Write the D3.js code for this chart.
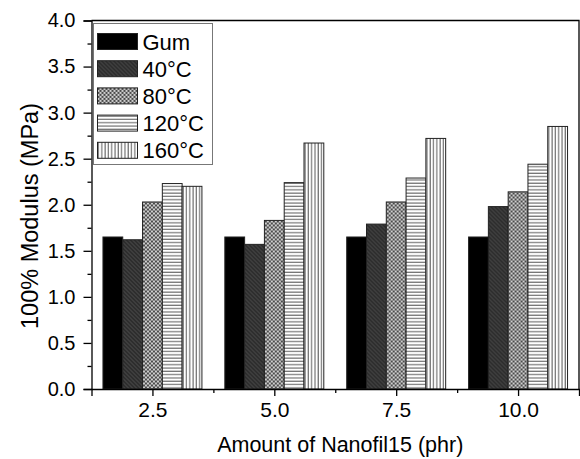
<!DOCTYPE html>
<html>
<head>
<meta charset="utf-8">
<script src="https://cdn.jsdelivr.net/npm/d3@7"></script>
<style>
  body { margin: 0; background: #fff; }
  text { font-family: "Liberation Sans", Arial, sans-serif; fill: #000; }
</style>
</head>
<body>
<div class="canvas"></div>
<script>
// amounts of filler (x categories)
const amounts = [2.5, 5.0, 7.5, 10.0];
const seriesNames = ['Gum', '40°C', '80°C', '120°C', '160°C'];

// 100% modulus values (MPa) per series
const gum = [1.65, 1.65, 1.65, 1.65];
const t40 = [1.62, 1.57, 1.79, 1.98];
const t80 = [2.03, 1.83, 2.03, 2.14];
const t120 = [2.23, 2.24, 2.29, 2.44];
const t160 = [2.20, 2.67, 2.72, 2.85];

const yTicks = [0.0, 0.5, 1.0, 1.5, 2.0, 2.5, 3.0, 3.5, 4.0];

const seriesValues = [gum, t40, t80, t120, t160];

const width = 580, height = 459;
const margin = { top: 20.5, right: 1, bottom: 70, left: 91.5 };
const w = width - margin.left - margin.right;
const h = height - margin.top - margin.bottom;

const svg = d3.select('.canvas')
    .append('svg')
    .attr('width', width)
    .attr('height', height);

// fill patterns for each series
const defs = svg.append('defs');

const p40 = defs.append('pattern')
    .attr('id', 'p40')
    .attr('patternUnits', 'userSpaceOnUse')
    .attr('width', 4).attr('height', 4);
p40.append('rect').attr('width', 4).attr('height', 4).attr('fill', '#3e3e3e');
p40.append('path')
    .attr('d', 'M0,0L4,4M-1,3L1,5M3,-1L5,1')
    .attr('stroke', '#1c1c1c').attr('stroke-width', 1);

const p80 = defs.append('pattern')
    .attr('id', 'p80')
    .attr('patternUnits', 'userSpaceOnUse')
    .attr('width', 4).attr('height', 4);
p80.append('rect').attr('width', 4).attr('height', 4).attr('fill', '#cfcfcf');
p80.append('rect').attr('width', 2).attr('height', 2).attr('fill', '#4a4a4a');
p80.append('rect').attr('x', 2).attr('y', 2).attr('width', 2).attr('height', 2).attr('fill', '#4a4a4a');

const p120 = defs.append('pattern')
    .attr('id', 'p120')
    .attr('patternUnits', 'userSpaceOnUse')
    .attr('width', 4).attr('height', 3.3);
p120.append('rect').attr('width', 4).attr('height', 3.3).attr('fill', '#fff');
p120.append('line').attr('x1', 0).attr('x2', 4).attr('y1', 1).attr('y2', 1)
    .attr('stroke', '#555').attr('stroke-width', 1);

const p160 = defs.append('pattern')
    .attr('id', 'p160')
    .attr('patternUnits', 'userSpaceOnUse')
    .attr('width', 3.3).attr('height', 4);
p160.append('rect').attr('width', 3.3).attr('height', 4).attr('fill', '#fff');
p160.append('line').attr('y1', 0).attr('y2', 4).attr('x1', 1).attr('x2', 1)
    .attr('stroke', '#555').attr('stroke-width', 1);

const fills = ['#000', 'url(#p40)', 'url(#p80)', 'url(#p120)', 'url(#p160)'];

const graph = svg.append('g')
    .attr('transform', `translate(${margin.left}, ${margin.top})`);

// scales
const x = d3.scaleLinear().domain([1.25, 11.25]).range([0, w]);
const y = d3.scaleLinear().domain([0, 4]).range([h, 0]);

const groupHalf = 1.015; // half width of a group in data units
const inner = d3.scaleBand()
    .domain(seriesNames)
    .range([0, x(1.25 + 2 * groupHalf) - x(1.25)]);

// bars
const groups = graph.selectAll('g.group')
    .data(amounts)
    .enter()
    .append('g')
    .attr('class', 'group')
    .attr('transform', d => `translate(${x(d - groupHalf)}, 0)`);

groups.selectAll('rect')
    .data((d, i) => seriesNames.map((s, k) => ({ name: s, k: k, value: seriesValues[k][i] })))
    .enter()
    .append('rect')
    .attr('x', d => inner(d.name))
    .attr('width', inner.bandwidth())
    .attr('y', d => y(d.value))
    .attr('height', d => h - y(d.value))
    .attr('fill', d => fills[d.k])
    .attr('stroke', '#222')
    .attr('stroke-width', 1);

// y axis: major ticks with labels, minor ticks in between
const yAxis = graph.append('g')
    .call(d3.axisLeft(y).tickValues(yTicks).tickSize(8).tickPadding(8)
        .tickFormat(d3.format('.1f')));
yAxis.selectAll('.tick text').style('font-size', '20px');
graph.append('g')
    .call(d3.axisLeft(y).tickValues(d3.range(0.25, 4, 0.5)).tickSize(4).tickFormat(''))
    .select('.domain').remove();

// x axis
const xAxis = graph.append('g')
    .attr('transform', `translate(0, ${h})`)
    .call(d3.axisBottom(x).tickValues(amounts).tickSize(7).tickPadding(6)
        .tickFormat(d3.format('.1f')));
xAxis.selectAll('.tick text').style('font-size', '21px');
graph.append('g')
    .attr('transform', `translate(0, ${h})`)
    .call(d3.axisBottom(x).tickValues([3.75, 6.25, 8.75]).tickSize(4).tickFormat(''))
    .select('.domain').remove();

svg.selectAll('.domain, .tick line').attr('stroke', '#000').attr('stroke-width', 1.3);

// top and right frame
graph.append('path')
    .attr('d', `M0,0H${w}V${h}`)
    .attr('fill', 'none')
    .attr('stroke', '#000')
    .attr('stroke-width', 1.3);

// axis titles
svg.append('text')
    .attr('x', margin.left + w / 2 + 5)
    .attr('y', 452)
    .attr('text-anchor', 'middle')
    .style('font-size', '21.5px')
    .text('Amount of Nanofil15 (phr)');

svg.append('text')
    .attr('transform', 'translate(38, 216) rotate(-90)')
    .attr('text-anchor', 'middle')
    .style('font-size', '23.5px')
    .text('100% Modulus (MPa)');

// legend
const legend = svg.append('g')
    .attr('transform', 'translate(93.5, 23.5)');

legend.append('rect')
    .attr('width', 119)
    .attr('height', 141)
    .attr('fill', '#fff')
    .attr('stroke', '#777')
    .attr('stroke-width', 1);

const items = legend.selectAll('g.item')
    .data(seriesNames)
    .enter()
    .append('g')
    .attr('class', 'item')
    .attr('transform', (d, i) => `translate(4, ${10 + i * 27.2})`);

items.append('rect')
    .attr('width', 40)
    .attr('height', 16)
    .attr('fill', (d, i) => fills[i])
    .attr('stroke', '#222')
    .attr('stroke-width', 1);

items.append('text')
    .attr('x', 45)
    .attr('y', 16)
    .style('font-size', '22px')
    .text(d => d);
</script>
</body>
</html>
